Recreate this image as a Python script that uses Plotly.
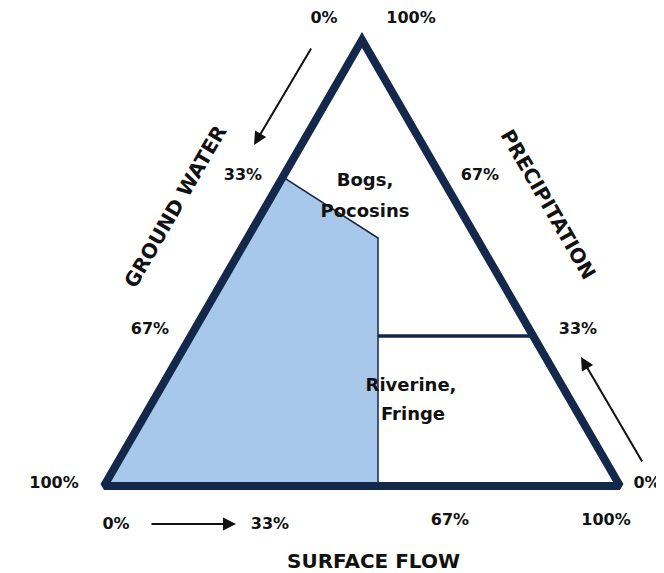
import plotly.graph_objects as go

# diagram coordinates in slide pixels (y grows downward)
# triangle path starts at the middle of the base so every corner gets a join
tri_x = [362, 620, 362, 104, 362]
tri_y = [486, 486, 40, 486, 486]

bog_zone_x = [104, 283, 378, 378, 104]
bog_zone_y = [486, 177, 238, 486, 486]

divider_x = [378, 533]
divider_y = [336, 336]

gw_labels = ["0%", "33%", "67%", "100%"]
gw_x = [324, 243, 150, 54]
gw_y = [19, 176, 330, 484]

pr_labels = ["100%", "67%", "33%", "0%"]
pr_x = [411, 480, 578, 647]
pr_y = [19, 176, 330, 484]

sf_labels = ["0%", "33%", "67%", "100%"]
sf_x = [116, 270, 450, 606]
sf_y = [525, 525, 521, 521]

zone_lines = ["Bogs,", "Pocosins", "Riverine,", "Fringe"]
zone_x = [365, 365, 411, 413]
zone_y = [181, 212, 386, 415]

# arrows: tail x, tail y, head x, head y
arrows = [(312, 47, 254, 145), (150, 524, 236, 524), (643, 463, 581, 357)]

navy = "#14284b"
ink = "#111111"
bold = "DejaVu Sans"

fig = go.Figure()

fig.add_trace(go.Scatter(x=bog_zone_x, y=bog_zone_y, mode="lines", fill="toself",
                         fillcolor="#a7c8ea", line=dict(color=navy, width=1.5),
                         hoverinfo="skip"))
fig.add_trace(go.Scatter(x=divider_x, y=divider_y, mode="lines",
                         line=dict(color=navy, width=3.5), hoverinfo="skip"))
fig.add_trace(go.Scatter(x=tri_x, y=tri_y, mode="lines",
                         line=dict(color=navy, width=8), hoverinfo="skip"))

for labels, xs, ys in [(gw_labels, gw_x, gw_y), (pr_labels, pr_x, pr_y), (sf_labels, sf_x, sf_y)]:
    fig.add_trace(go.Scatter(x=xs, y=ys, mode="text", text=["<b>%s</b>" % t for t in labels],
                             textfont=dict(family=bold, size=16, color=ink),
                             cliponaxis=False, hoverinfo="skip"))

fig.add_trace(go.Scatter(x=zone_x, y=zone_y, mode="text", text=["<b>%s</b>" % t for t in zone_lines],
                         textfont=dict(family=bold, size=18, color=ink),
                         cliponaxis=False, hoverinfo="skip"))

annots = [
    dict(x=175, y=207, text="<b>GROUND WATER</b>", textangle=-60, showarrow=False,
         font=dict(family=bold, size=20, color=ink)),
    dict(x=548, y=204, text="<b>PRECIPITATION</b>", textangle=60, showarrow=False,
         font=dict(family=bold, size=20, color=ink)),
    dict(x=373, y=561, text="<b>SURFACE FLOW</b>", showarrow=False,
         font=dict(family=bold, size=20, color=ink)),
]
for (x0, y0, x1, y1) in arrows:
    annots.append(dict(x=x1, y=y1, ax=x0, ay=y0, xref="x", yref="y", axref="x", ayref="y",
                       text="", showarrow=True, arrowhead=2, arrowsize=1.3, arrowwidth=2,
                       arrowcolor=ink))

# the page body has an 8px margin, so the plot area is offset to keep slide pixels aligned
fig.update_layout(
    width=656, height=565,
    margin=dict(l=0, r=0, t=0, b=0),
    paper_bgcolor="white", plot_bgcolor="white",
    showlegend=False,
    annotations=annots,
    xaxis=dict(range=[8, 664], visible=False, fixedrange=True),
    yaxis=dict(range=[573, 8], visible=False, fixedrange=True),
)

fig.write_html("out.html")
